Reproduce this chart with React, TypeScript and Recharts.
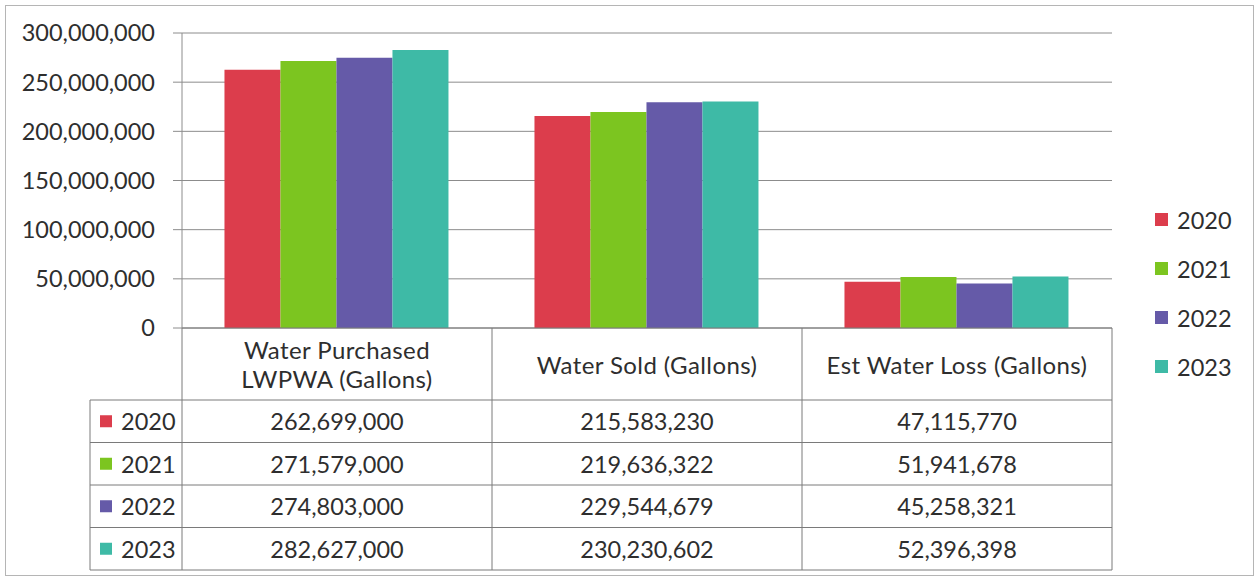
import { BarChart, Bar, XAxis, YAxis, CartesianGrid, Legend } from "recharts"

const categories = ["Water Purchased LWPWA (Gallons)", "Water Sold (Gallons)", "Est Water Loss (Gallons)"]
const headerLines = [["Water Purchased", "LWPWA (Gallons)"], ["Water Sold (Gallons)"], ["Est Water Loss (Gallons)"]]
const years = ["2020", "2021", "2022", "2023"]
const values2020 = [262699000, 215583230, 47115770]
const values2021 = [271579000, 219636322, 51941678]
const values2022 = [274803000, 229544679, 45258321]
const values2023 = [282627000, 230230602, 52396398]
const yTicks = [0, 50000000, 100000000, 150000000, 200000000, 250000000, 300000000]
const colors = ["#dc3d4c", "#7cc520", "#655aa8", "#3ebaa6"]

const seriesValues = [values2020, values2021, values2022, values2023]

const data = categories.map((name, i) => {
  const row: Record<string, string | number> = { name }
  years.forEach((y, s) => {
    row[y] = seriesValues[s][i]
  })
  return row
})

// layout
const W = 1259
const H = 580
const Y_AXIS_W = 182
const PLOT_RIGHT = 147
const BAND = (W - Y_AXIS_W - PLOT_RIGHT) / categories.length
const HEADER_H = 72
const ROW_H = 42.5
const TABLE_H = HEADER_H + ROW_H * years.length
const LEFT_COL_X = 90
const FONT = "Lato, 'Noto Sans', sans-serif"
const FS = 23.5
const TEXT = "#2e2e2e"
const TABLE_LINE = "#7a7a7a"
const GRID = "#8c8c8c"

const fmt = (v: number) => v.toLocaleString("en-US")

function TableTick(props: any) {
  const { x, y, index } = props
  const left = x - BAND / 2
  const right = x + BAND / 2
  const rowsTop = y + HEADER_H
  const lines = headerLines[index] || [categories[index]]
  return (
    <g>
      {lines.map((t, i) => (
        <text
          key={t}
          x={x}
          y={y + HEADER_H / 2 + (i - (lines.length - 1) / 2) * 29}
          textAnchor="middle"
          dominantBaseline="central"
          fontSize={24}
          letterSpacing={0.4}
          fontFamily={FONT}
          fill={TEXT}
        >
          {t}
        </text>
      ))}
      {index === 0 && <line x1={left} x2={left} y1={y} y2={y + TABLE_H} stroke={TABLE_LINE} />}
      <line x1={right} x2={right} y1={y} y2={y + TABLE_H} stroke={TABLE_LINE} />
      {years.map((yr, r) => (
        <g key={yr}>
          <line
            x1={index === 0 ? LEFT_COL_X : left}
            x2={right}
            y1={rowsTop + r * ROW_H}
            y2={rowsTop + r * ROW_H}
            stroke={TABLE_LINE}
          />
          <text
            x={x}
            y={rowsTop + (r + 0.5) * ROW_H}
            textAnchor="middle"
            dominantBaseline="central"
            fontSize={FS}
            fontFamily={FONT}
            fill={TEXT}
          >
            {fmt(seriesValues[r][index])}
          </text>
          {index === 0 && (
            <g>
              <rect x={100} y={rowsTop + (r + 0.5) * ROW_H - 6} width={12} height={12} fill={colors[r]} />
              <text
                x={121}
                y={rowsTop + (r + 0.5) * ROW_H}
                dominantBaseline="central"
                fontSize={FS}
                fontFamily={FONT}
                fill={TEXT}
              >
                {yr}
              </text>
            </g>
          )}
        </g>
      ))}
      <line
        x1={index === 0 ? LEFT_COL_X : left}
        x2={right}
        y1={y + TABLE_H}
        y2={y + TABLE_H}
        stroke={TABLE_LINE}
      />
      {index === 0 && (
        <line x1={LEFT_COL_X} x2={LEFT_COL_X} y1={rowsTop} y2={y + TABLE_H} stroke={TABLE_LINE} />
      )}
    </g>
  )
}

const renderLegend = (props: any) => (
  <div style={{ fontFamily: FONT, fontSize: FS, color: TEXT }}>
    {(props.payload || []).map((p: any) => (
      <div key={p.value} style={{ display: "flex", alignItems: "center", height: 49 }}>
        <span style={{ width: 13, height: 13, background: p.color, marginRight: 9, display: "inline-block" }} />
        <span>{p.value}</span>
      </div>
    ))}
  </div>
)

function App() {
  return (
    <div style={{ position: "absolute", left: 0, top: 0, width: W, height: H, background: "#fff" }}>
      <div
        style={{
          position: "absolute",
          left: 5,
          top: 5,
          width: 1247,
          height: 569,
          border: "1px solid #b5b5b5",
        }}
      />
      <div style={{ position: "absolute", left: 0, top: 0 }}>
        <BarChart
          width={W}
          height={H}
          data={data}
          margin={{ top: 33, right: PLOT_RIGHT, bottom: 10, left: 0 }}
          barCategoryGap="13.7%"
          barGap={0}
          style={{ fontFamily: FONT }}
        >
          <CartesianGrid vertical={false} stroke={GRID} />
          <XAxis
            dataKey="name"
            height={TABLE_H}
            interval={0}
            tickSize={0}
            tickMargin={0}
            tickLine={false}
            axisLine={{ stroke: TABLE_LINE }}
            tick={<TableTick />}
          />
          <YAxis
            width={Y_AXIS_W}
            domain={[0, 300000000]}
            ticks={yTicks}
            interval={0}
            tickFormatter={fmt}
            tickSize={9}
            tickMargin={18}
            tickLine={{ stroke: GRID }}
            axisLine={{ stroke: GRID }}
            tick={{ fontSize: FS, fill: TEXT, fontFamily: FONT }}
          />
          <Legend
            layout="vertical"
            align="center"
            verticalAlign="middle"
            content={renderLegend}
            wrapperStyle={{ left: 1155, top: 195, width: 100 }}
          />
          {years.map((yr, s) => (
            <Bar key={yr} dataKey={yr} name={yr} fill={colors[s]} isAnimationActive={false} />
          ))}
        </BarChart>
      </div>
    </div>
  )
}

export default App
